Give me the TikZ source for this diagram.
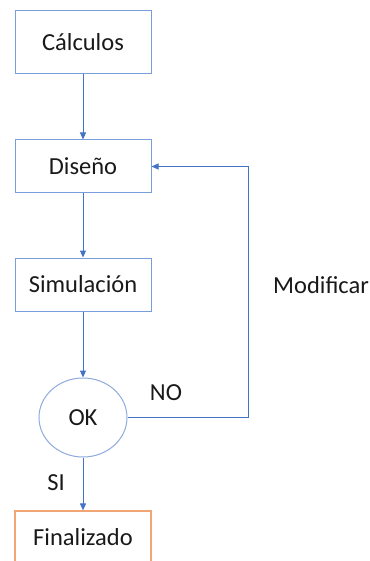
\documentclass[tikz,border=0pt]{standalone}
\usepackage{fontspec}
\setmainfont{Carlito}
\usetikzlibrary{shapes.geometric,arrows.meta}
\definecolor{boxblue}{HTML}{7A9DDB}
\definecolor{lineblue}{HTML}{4472C4}
\definecolor{circblue}{HTML}{8FAADC}
\definecolor{boxorange}{HTML}{F2A675}
\tikzset{
  stepbox/.style={draw=boxblue,line width=1pt,minimum width=136pt,minimum height=53pt,inner sep=0pt,font=\fontsize{24.5}{28}\selectfont,text=black!90},
  conn/.style={draw=lineblue,line width=1pt,-{Triangle[length=7pt,width=6pt]}},
  lbl/.style={font=\fontsize{24.5}{28}\selectfont,text=black!90,inner sep=0pt}
}
\begin{document}
\begin{tikzpicture}[x=1pt,y=-1pt]
\useasboundingbox (0,0) rectangle (369,561);
\clip (0,0) rectangle (369,561);
\node[stepbox,minimum height=63pt] (calc) at (83,42.5) {Cálculos};
\node[stepbox] (dis) at (83,166.5) {Diseño};
\node[stepbox] (sim) at (83,284.5) {Simulación};
\node[draw=circblue,line width=1pt,ellipse,minimum width=88pt,minimum height=79pt,inner sep=0pt,font=\fontsize{24.5}{28}\selectfont,text=black!90] (ok) at (83,417.5) {OK};
\node[stepbox,draw=boxorange,line width=1.2pt] (fin) at (83,537.5) {Finalizado};
\node[lbl] (no) at (166,393) {NO};
\node[lbl] (si) at (56,483) {SI};
\node[lbl,anchor=west] (mod) at (273,285) {Modificar};
\coordinate (c1) at (248,417.5);
\coordinate (c2) at (248,166.5);
\draw[conn] (calc) -- (dis);
\draw[conn] (dis) -- (sim);
\draw[conn] (sim) -- (ok);
\draw[conn] (ok) -- (fin);
\draw[conn] (ok.east) -- (c1) -- (c2) -- (dis.east);
\end{tikzpicture}
\end{document}
